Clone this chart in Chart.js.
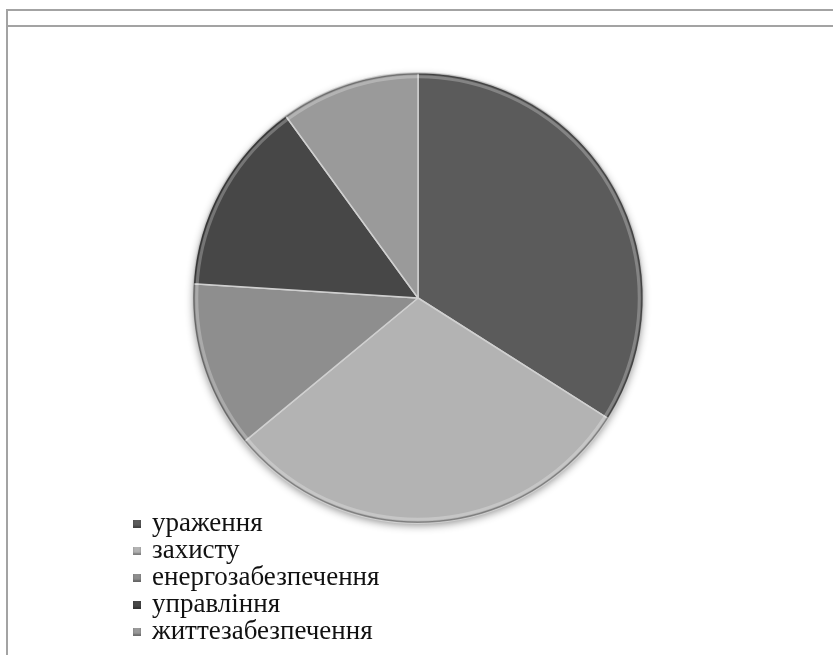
<!DOCTYPE html>
<html>
<head>
    <meta charset="utf-8">
    <script src="https://cdn.jsdelivr.net/npm/chart.js@4/dist/chart.umd.min.js"></script>
    <style>
        body { margin: 0; background: #fff; }
        #wrap { position: relative; width: 833px; height: 655px; overflow: hidden; }
        #chart { position: absolute; left: 0; top: 0; }
        .line { position: absolute; background: #a3a3a3; }
        #legend { position: absolute; left: 133px; top: 509px; font-family: "Liberation Serif", "Times New Roman", serif; font-size: 27px; color: #111; }
        #legend div { height: 27px; line-height: 27px; white-space: nowrap; }
        #legend span.box { display: inline-block; width: 8px; height: 8px; margin-right: 11px; vertical-align: 3px; }
    </style>
</head>
<body>
<div id="wrap">
    <div class="line" style="left:6px; top:9px; width:840px; height:2px;"></div>
    <div class="line" style="left:6px; top:25px; width:840px; height:2px;"></div>
    <div class="line" style="left:6px; top:9px; width:2px; height:660px;"></div>
    <canvas id="chart" width="833" height="655"></canvas>
    <div id="legend"></div>
</div>
<script>
    var labels = ['ураження', 'захисту', 'енергозабезпечення', 'управління', 'життезабезпечення'];
    var values = [34, 30, 12, 14, 10];
    var colors = ['#5b5b5b', '#b3b3b3', '#8e8e8e', '#474747', '#9a9a9a'];

    // soft shadow under the pie and a light bevel round its rim
    var pieBevel = {
        id: 'pieBevel',
        beforeDatasetsDraw: function (chart) {
            var arc = chart.getDatasetMeta(0).data[0];
            if (!arc) return;
            var ctx = chart.ctx;
            ctx.save();
            ctx.shadowColor = 'rgba(0,0,0,0.45)';
            ctx.shadowBlur = 8;
            ctx.shadowOffsetY = 3;
            ctx.fillStyle = '#777';
            ctx.beginPath();
            ctx.arc(arc.x, arc.y, arc.outerRadius - 1, 0, Math.PI * 2);
            ctx.fill();
            ctx.restore();
        },
        afterDatasetsDraw: function (chart) {
            var arc = chart.getDatasetMeta(0).data[0];
            if (!arc) return;
            var ctx = chart.ctx;
            ctx.save();
            ctx.strokeStyle = 'rgba(255,255,255,0.25)';
            ctx.lineWidth = 3;
            ctx.beginPath();
            ctx.arc(arc.x, arc.y, arc.outerRadius - 4, 0, Math.PI * 2);
            ctx.stroke();
            ctx.strokeStyle = 'rgba(0,0,0,0.3)';
            ctx.lineWidth = 1.5;
            ctx.beginPath();
            ctx.arc(arc.x, arc.y, arc.outerRadius - 1, 0, Math.PI * 2);
            ctx.stroke();
            ctx.restore();
        }
    };

    var chart = new Chart('chart', {
        type: 'pie',
        data: {
            labels: labels,
            datasets: [{
                data: values,
                backgroundColor: colors,
                borderColor: '#d0d0d0',
                borderWidth: 1.5
            }]
        },
        options: {
            responsive: false,
            animation: false,
            layout: { padding: { left: 192, right: 189, top: 72, bottom: 131 } },
            plugins: {
                legend: { display: false },
                tooltip: { enabled: false }
            }
        },
        plugins: [pieBevel]
    });

    var legend = document.getElementById('legend');
    labels.forEach(function (lab, i) {
        var row = document.createElement('div');
        var box = document.createElement('span');
        box.className = 'box';
        box.style.background = colors[i];
        box.style.boxShadow = 'inset 0 -2px 2px rgba(0,0,0,0.3)';
        row.appendChild(box);
        row.appendChild(document.createTextNode(lab));
        legend.appendChild(row);
    });
</script>
</body>
</html>
